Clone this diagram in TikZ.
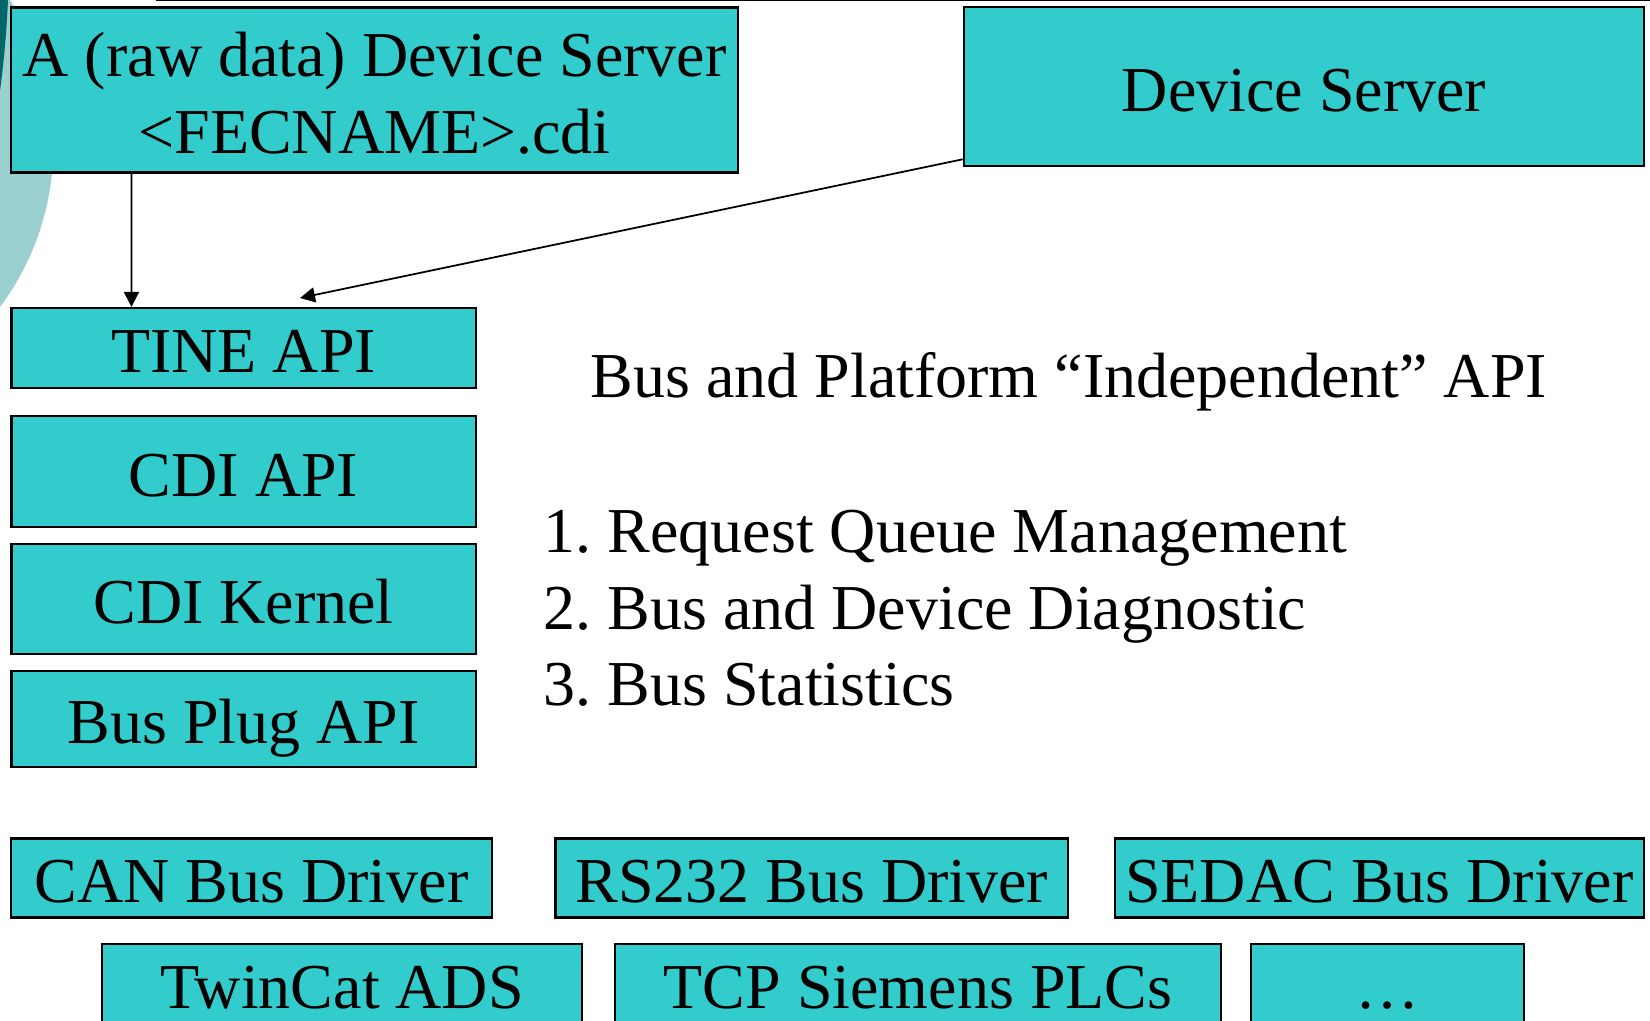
\documentclass[tikz,border=0pt]{standalone}
\usepackage{fontspec}
\setmainfont{Liberation Serif}
\frenchspacing
\usetikzlibrary{arrows.meta, positioning}
\definecolor{tteal}{HTML}{33CCCC}
\definecolor{tlight}{HTML}{9CCFCF}
\definecolor{tdark}{HTML}{006666}
\tikzset{
  tbox/.style={draw=black, fill=tteal, line width=0.6pt, inner sep=0pt,
               font=\fontsize{18.2pt}{21.9pt}\selectfont},
  tline/.style={text height=0.62cm, text depth=0.13cm},
  ttext/.style={inner sep=0pt, font=\fontsize{18.2pt}{21.9pt}\selectfont},
  arr/.style={-{Triangle[length=0.15cm, width=0.15cm]}, line width=0.5pt, black},
}

\begin{document}
\begin{tikzpicture}[x=0.01cm, y=-0.01cm]
  \useasboundingbox (0,0) rectangle (1650,1021);

  % Hintergrund
  \begin{scope}
    \clip (0,0) rectangle (1650,1021);
    \fill[tlight] (-215.4,146.3) circle[radius=268.7];
    \fill[tdark] (-986,-43) circle[radius=994.9];
    \draw[line width=0.4pt] (156,0.7) -- (1650,0.7);
  \end{scope}

  % Server oben
  \node[tbox, align=center, minimum width=7.26cm, minimum height=1.65cm] (rawsrv) at (374.6,90)
    {\rule{0pt}{0.62cm}A (raw data) Device Server\\<FECNAME>.cdi\rule[-0.13cm]{0pt}{0.13cm}};
  \node[tbox, tline, minimum width=6.8cm, minimum height=1.59cm] (devsrv) at (1304,86.7)
    {Device Server};

  % Schichten
  \node[tbox, tline, minimum width=4.64cm, minimum height=0.8cm] (tine) at (243.6,348) {TINE API};
  \node[tbox, tline, minimum width=4.64cm, minimum height=1.115cm] (cdiapi) at (243.6,471.5) {CDI API};
  \node[tbox, tline, minimum width=4.64cm, minimum height=1.105cm] (kernel) at (243.6,599) {CDI Kernel};
  \node[tbox, tline, minimum width=4.64cm, minimum height=0.96cm] (busplug) at (243.6,719) {Bus Plug API};

  \coordinate (tinein) at (300,298);
  \draw[arr] ([xshift=1.21cm]rawsrv.south west) -- ([xshift=1.21cm]tine.north west);
  \draw[arr] ([yshift=0.08cm]devsrv.south west) -- (tinein);

  % Text rechts
  \node[ttext, anchor=base west] (indep) at (590,397) {Bus and Platform “Independent” API};
  \node[ttext, anchor=base west] (item1) at (543,552) {1. Request Queue Management};
  \node[ttext, anchor=base west] (item2) at (543,629) {2. Bus and Device Diagnostic};
  \node[ttext, anchor=base west] (item3) at (543,705) {3. Bus Statistics};

  % Treiber
  \node[tbox, tline, minimum width=4.8cm, minimum height=0.79cm] (can) at (251.5,878) {CAN Bus Driver};
  \node[tbox, tline, minimum width=5.124cm, minimum height=0.79cm] (rs232) at (811.8,878) {RS232 Bus Driver};
  \node[tbox, tline, minimum width=5.283cm, minimum height=0.79cm] (sedac) at (1379.5,878) {SEDAC Bus Driver};
  \node[tbox, tline, minimum width=4.8cm, minimum height=0.8cm] (twincat) at (342,984) {TwinCat ADS};
  \node[tbox, tline, minimum width=6.05cm, minimum height=0.8cm] (tcp) at (918,984) {TCP Siemens PLCs};
  \node[tbox, tline, minimum width=2.73cm, minimum height=0.8cm] (more) at (1387.5,984) {…};
\end{tikzpicture}
\end{document}
